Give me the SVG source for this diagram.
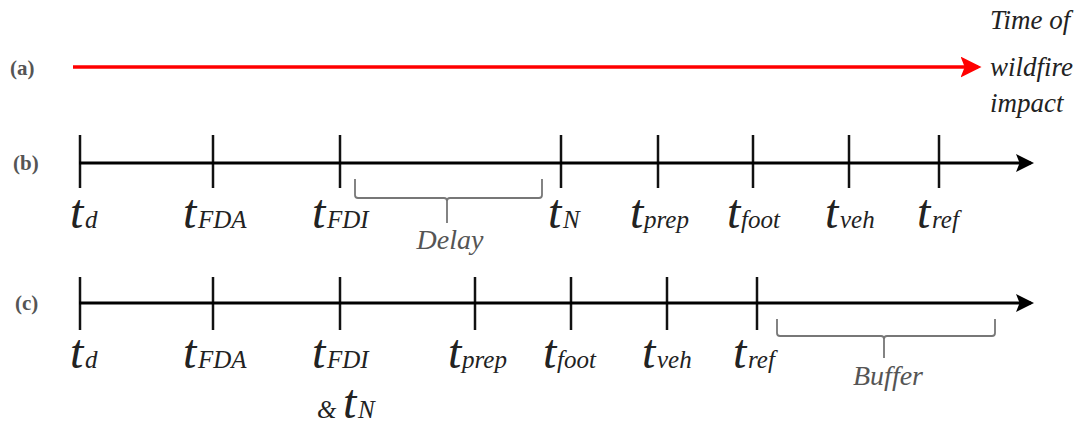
<svg xmlns="http://www.w3.org/2000/svg" width="1085" height="430" viewBox="0 0 1085 430">
<style>
.lab{font-family:"Liberation Serif",serif;font-size:21px;fill:#555;font-weight:bold;}
.t{font-family:"Liberation Serif",serif;font-style:italic;font-size:48px;fill:#222;}
.s{font-size:25px;}
.it{font-family:"Liberation Serif",serif;font-style:italic;font-size:27px;fill:#222;}
.gr{font-family:"Liberation Serif",serif;font-style:italic;font-size:28px;fill:#555;}
.axis{stroke:#000;stroke-width:3;fill:none;}
.tick{stroke:#111;stroke-width:2.5;}
.br{stroke:#777;stroke-width:1.8;fill:none;}
</style>
<defs>
<marker id="ab" markerWidth="6" markerHeight="6" refX="5" refY="3" orient="auto" markerUnits="strokeWidth"><path d="M0,0 L6,3 L0,6 L1.2,3 Z" fill="#000"/></marker>
<marker id="ar" markerWidth="6" markerHeight="6" refX="5" refY="3" orient="auto" markerUnits="strokeWidth"><path d="M0,0 L6,3 L0,6 L1.2,3 Z" fill="#f00"/></marker>
</defs>
<g id="row-a">
<text class="lab" x="10" y="75">(a)</text>
<text class="it" x="990" y="29">Time of</text>
<text class="it" x="990" y="76">wildfire</text>
<text class="it" x="990" y="112">impact</text>
</g>
<g id="row-b">
<text class="lab" x="13" y="170">(b)</text>
<g id="b-ticks">
<line class="tick" x1="80" y1="135" x2="80" y2="188"/>
<line class="tick" x1="213" y1="135" x2="213" y2="188"/>
<line class="tick" x1="340" y1="135" x2="340" y2="188"/>
<line class="tick" x1="561" y1="135" x2="561" y2="188"/>
<line class="tick" x1="658" y1="135" x2="658" y2="188"/>
<line class="tick" x1="753" y1="135" x2="753" y2="188"/>
<line class="tick" x1="849" y1="135" x2="849" y2="188"/>
<line class="tick" x1="939" y1="135" x2="939" y2="188"/>
</g>
<g id="b-labels">
<text class="t" x="70" y="228">t<tspan class="s" x="85">d</tspan></text>
<text class="t" x="183" y="228">t<tspan class="s" x="198">FDA</tspan></text>
<text class="t" x="312" y="228">t<tspan class="s" x="327">FDI</tspan></text>
<text class="t" x="548" y="228">t<tspan class="s" x="563">N</tspan></text>
<text class="t" x="630" y="228">t<tspan class="s" x="644">prep</tspan></text>
<text class="t" x="727" y="228">t<tspan class="s" x="741">foot</tspan></text>
<text class="t" x="825" y="228">t<tspan class="s" x="840">veh</tspan></text>
<text class="t" x="917" y="228">t<tspan class="s" x="932">ref</tspan></text>
</g>
<g id="delay">
<path class="br" d="M355,179 L355,195 Q355,198 358,198 L444,198 Q447,198 447,201 L447,223 M447,201 Q447,198 450,198 L539,198 Q542,198 542,195 L542,179"/>
<text class="gr" x="450" y="249" text-anchor="middle">Delay</text>
</g>
</g>
<g id="row-c">
<text class="lab" x="15" y="310">(c)</text>
<g id="c-ticks">
<line class="tick" x1="80" y1="277" x2="80" y2="330"/>
<line class="tick" x1="213" y1="277" x2="213" y2="330"/>
<line class="tick" x1="340" y1="277" x2="340" y2="330"/>
<line class="tick" x1="475" y1="277" x2="475" y2="330"/>
<line class="tick" x1="571" y1="277" x2="571" y2="330"/>
<line class="tick" x1="667" y1="277" x2="667" y2="330"/>
<line class="tick" x1="757" y1="277" x2="757" y2="330"/>
</g>
<g id="c-labels">
<text class="t" x="70" y="368">t<tspan class="s" x="85">d</tspan></text>
<text class="t" x="183" y="368">t<tspan class="s" x="198">FDA</tspan></text>
<text class="t" x="312" y="368">t<tspan class="s" x="327">FDI</tspan></text>
<text class="t" x="448" y="368">t<tspan class="s" x="462">prep</tspan></text>
<text class="t" x="543" y="368">t<tspan class="s" x="557">foot</tspan></text>
<text class="t" x="642" y="368">t<tspan class="s" x="657">veh</tspan></text>
<text class="t" x="733" y="368">t<tspan class="s" x="748">ref</tspan></text>
<text class="t" x="317" y="418"><tspan class="s">&amp;</tspan><tspan x="343">t</tspan><tspan class="s" x="358">N</tspan></text>
</g>
<g id="buffer">
<path class="br" d="M777,319 L777,333 Q777,336 780,336 L881,336 Q884,336 884,339 L884,358 M884,339 Q884,336 887,336 L992,336 Q995,336 995,333 L995,319"/>
<text class="gr" x="888" y="385" text-anchor="middle">Buffer</text>
</g>
</g>
<g id="connectors">
<line x1="73" y1="67" x2="978" y2="67" stroke="#f00" stroke-width="3.5" marker-end="url(#ar)"/>
<line class="axis" x1="79" y1="163" x2="1031" y2="163" marker-end="url(#ab)"/>
<line class="axis" x1="79" y1="303" x2="1031" y2="303" marker-end="url(#ab)"/>
</g>
</svg>
